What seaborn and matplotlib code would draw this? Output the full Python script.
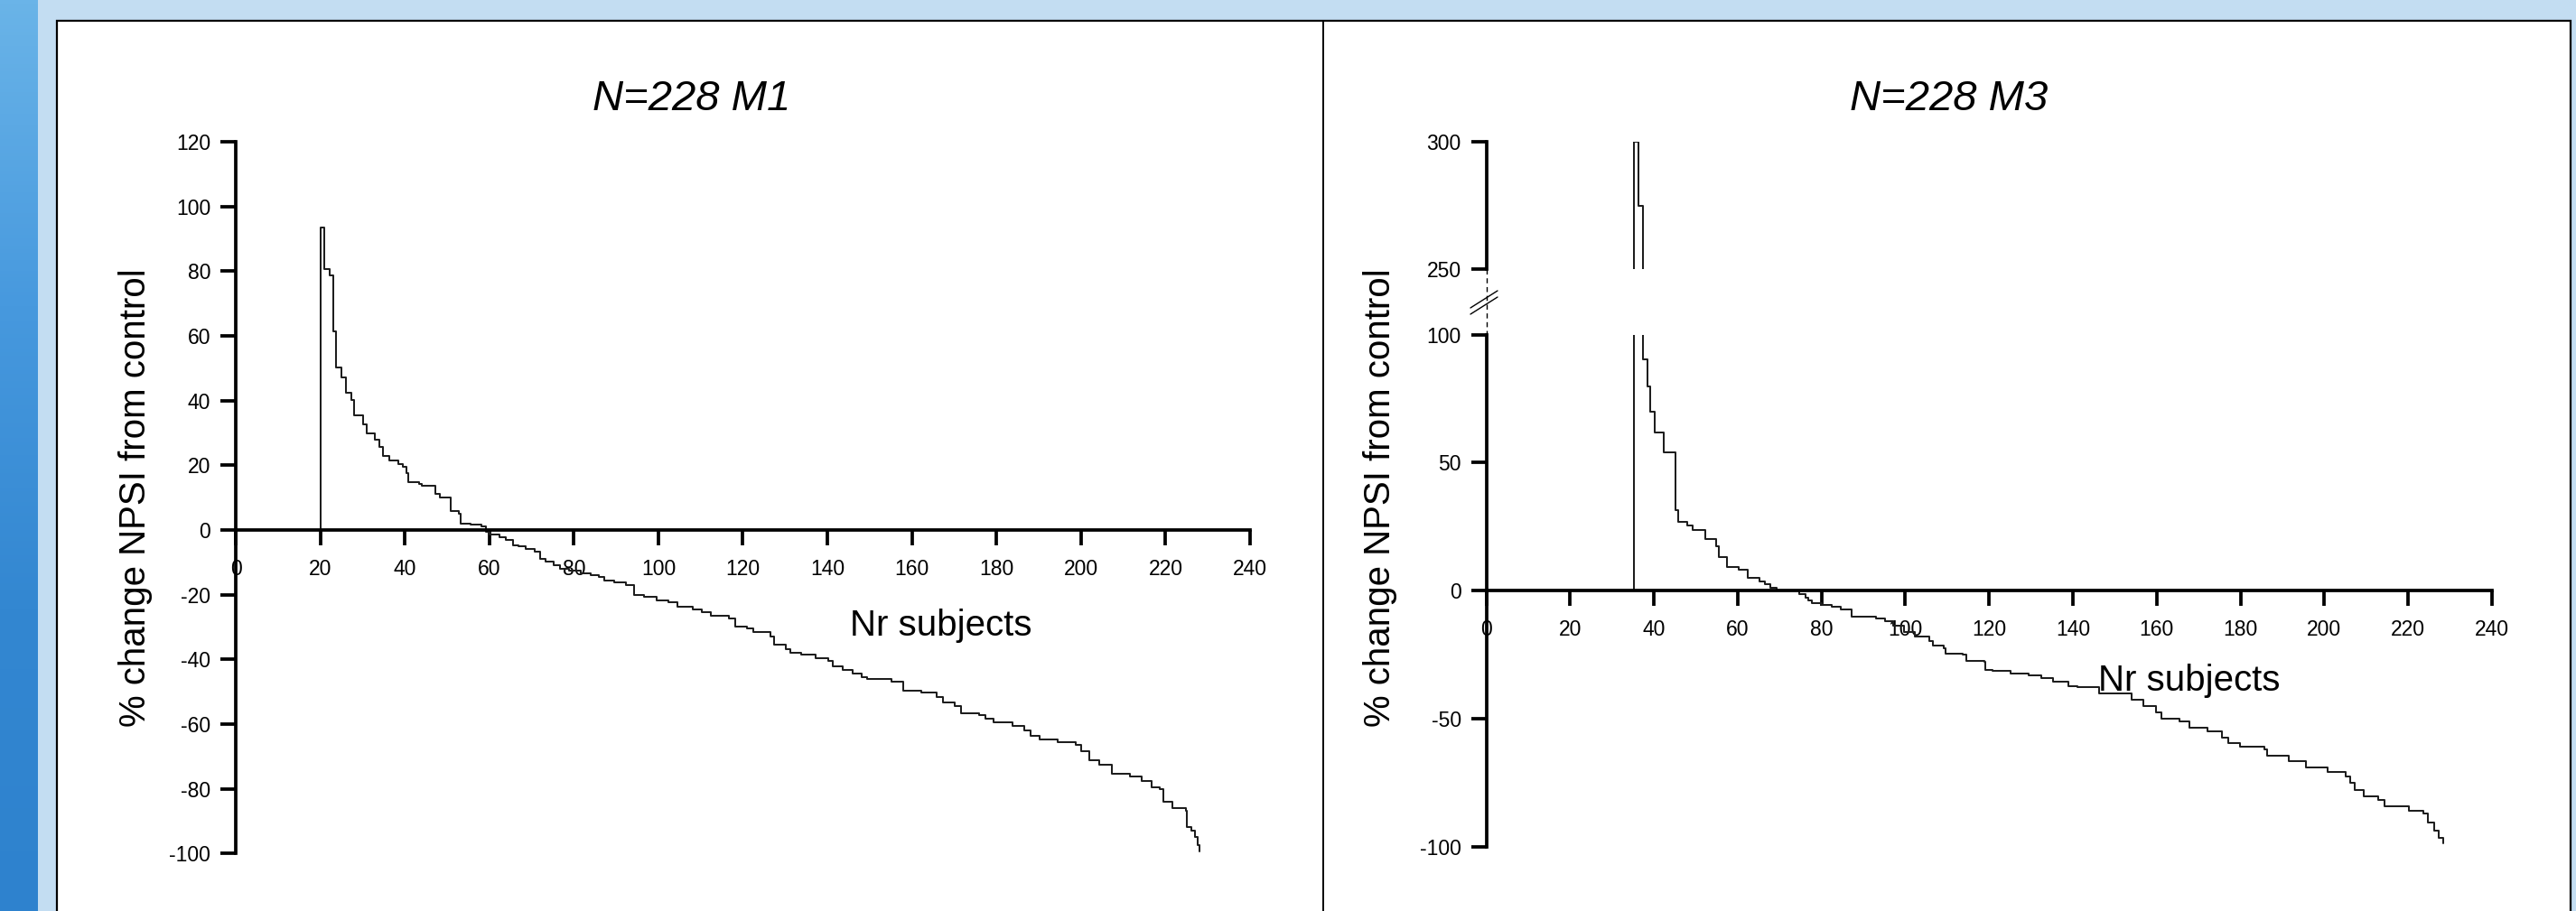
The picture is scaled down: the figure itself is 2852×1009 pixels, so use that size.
import numpy as np
import pandas as pd
import matplotlib
matplotlib.use("Agg")
import matplotlib.pyplot as plt
from matplotlib.patches import Rectangle
from matplotlib.lines import Line2D
from matplotlib.colors import LinearSegmentedColormap
import seaborn as sns

# ---------------- data ----------------
titles = ["N=228 M1", "N=228 M3"]
x_label = "Nr subjects"
y_label = "% change NPSI from control"
x_ticks = list(range(0, 241, 20))
m1_yticks = list(range(-100, 121, 20))
m3_low_yticks = [-100, -50, 0, 50, 100]
m3_high_yticks = [250, 300]

# step start positions (subject rank) and % change, panel M1
m1_x = [20.0, 20.0, 20.9, 22.2, 23.0, 23.8, 25.0, 26.0, 27.3, 28.1, 30.2, 31.0, 33.0, 33.9,
        34.9, 36.3, 38.4, 39.6, 40.4, 40.8, 43.3, 44.1, 47.2, 48.2, 50.9, 52.8, 53.2, 55.6,
        58.1, 59.3, 60.0, 62.5, 63.9, 65.7, 66.8, 68.6, 70.7, 72.1, 73.2, 75.3, 76.7, 78.9,
        81.7, 83.9, 86.0, 87.1, 89.6, 92.4, 94.2, 96.7, 99.6, 102.4, 104.5, 108.1, 110.2,
        112.4, 116.7, 118.1, 120.9, 122.4, 126.6, 127.4, 130.2, 131.3, 133.8, 137.3, 140.2,
        141.3, 143.7, 145.9, 148.0, 149.4, 155.1, 158.0, 162.2, 165.8, 167.3, 170.1, 171.6,
        175.9, 177.3, 179.4, 183.7, 186.5, 188.0, 190.1, 194.4, 198.7, 200.1, 201.9, 204.4,
        207.3, 211.6, 214.4, 216.6, 218.7, 219.4, 221.6, 224.8, 225.1, 226.2, 226.9, 227.6,
        228.0]
m1_y = [0, 93.4, 80.7, 78.8, 61.4, 50.3, 47.1, 42.4, 40.1, 35.4, 32.6, 30.0, 28.0, 25.6,
        22.8, 21.4, 20.5, 19.6, 17.7, 14.7, 14.2, 13.8, 11.2, 10.1, 5.8, 5.1, 2.1, 1.7,
        1.2, -0.6, -1.4, -2.3, -3.0, -4.6, -5.1, -5.8, -6.8, -8.8, -9.7, -10.9, -12.0, -12.5,
        -13.5, -13.9, -14.6, -15.5, -16.1, -17.0, -20.0, -20.7, -21.6, -22.3, -23.7, -24.6,
        -25.5, -26.5, -27.4, -29.7, -30.4, -31.6, -33.0, -35.3, -36.7, -38.0, -38.5, -39.5,
        -40.4, -42.2, -43.2, -44.3, -45.5, -46.0, -46.9, -49.7, -50.2, -51.6, -53.4, -54.4,
        -56.5, -57.1, -58.3, -59.3, -60.4, -62.0, -63.6, -64.8, -65.5, -66.4, -68.2, -71.0,
        -72.4, -75.2, -76.1, -77.5, -79.4, -80.0, -84.0, -85.8, -86.8, -91.9, -92.8, -94.8,
        -97.4, -99.2]

# panel M3
m3_x = [35.2, 35.2, 36.3, 37.5, 38.5, 39.1, 40.3, 42.3, 45.2, 45.9, 47.9, 49.2, 52.2, 54.9,
        55.4, 57.4, 60.3, 62.4, 65.2, 66.5, 67.7, 69.4, 74.7, 76.1, 76.8, 77.8, 80.0, 82.5,
        84.7, 87.2, 92.9, 95.1, 97.2, 99.7, 102.3, 105.8, 106.6, 109.1, 109.5, 113.7, 114.5,
        118.8, 119.1, 120.9, 125.2, 129.5, 132.4, 135.3, 138.9, 141.0, 146.2, 153.9, 156.8,
        159.8, 161.2, 165.5, 167.7, 172.0, 175.6, 177.0, 179.9, 185.6, 186.4, 191.4, 195.7,
        200.7, 205.0, 206.1, 207.2, 209.3, 212.9, 214.4, 220.1, 223.7, 224.8, 226.2, 227.3,
        228.4]
m3_y = [0, 300, 275, 90.4, 79.6, 69.9, 61.8, 54.0, 31.4, 27.0, 25.4, 23.8, 20.0, 17.3,
        13.2, 9.4, 8.1, 4.9, 3.5, 2.4, 1.1, 0.0, -1.5, -2.7, -3.9, -5.0, -5.6, -6.2,
        -7.4, -10.3, -10.9, -12.0, -13.8, -16.1, -17.9, -19.6, -21.4, -22.6, -24.6, -24.9, -27.3,
        -27.8, -30.8, -31.3, -32.5, -33.1, -34.3, -35.4, -37.2, -37.8, -40.1, -42.7, -45.0,
        -47.4, -49.9, -50.9, -53.4, -54.9, -57.3, -59.6, -60.8, -62.0, -64.3, -66.6, -69.0,
        -70.8, -72.5, -74.9, -77.8, -80.2, -81.9, -84.2, -86.0, -87.1, -90.6, -93.6, -96.5,
        -98.8]

df_m1 = pd.DataFrame({"subject": m1_x, "change": m1_y})
df_m3 = pd.DataFrame({"subject": m3_x, "change": m3_y})

# ---------------- style ----------------
sns.set_theme(style="white")
plt.rcParams["font.family"] = ["Liberation Sans", "DejaVu Sans"]

W, H = 2852, 1009
fig = plt.figure(figsize=(W / 100, H / 100), dpi=100)
fig.patch.set_facecolor("#c3ddf2")


def fx(px):
    return px / W


def fy(py):
    return 1 - py / H


def rect(x0, y0, x1, y1):
    # pixel box (top-left origin) -> figure fraction [l, b, w, h]
    return [fx(x0), fy(y1), fx(x1) - fx(x0), fy(y0) - fy(y1)]


# blue strip on the far left (gradient)
ax_bg = fig.add_axes(rect(0, 0, 42, H), zorder=-20)
cmap = LinearSegmentedColormap.from_list("strip", ["#6ab4e8", "#4799de", "#3387d1", "#2e82ce"])
ax_bg.imshow(np.linspace(0, 1, 256).reshape(-1, 1), cmap=cmap, aspect="auto")
ax_bg.set_axis_off()

# white panel with black border
panel = Rectangle((fx(63), fy(H + 20)), fx(2846) - fx(63), fy(23) - fy(H + 20),
                  transform=fig.transFigure, facecolor="white", edgecolor="black",
                  linewidth=1.6, zorder=-10)
fig.add_artist(panel)
fig.add_artist(Line2D([fx(1465), fx(1465)], [fy(23), fy(H + 5)], transform=fig.transFigure,
                      color="black", linewidth=1.4, zorder=-5))

LINE_C = "#1e1e1e"
LW = 1.45
SPINE_W = 2.7
TICK_FS = 16.5


def style_axes(ax, ylim, yticks, with_x=True):
    ax.set_facecolor("none")
    ax.set_xlim(0, 240)
    ax.set_ylim(*ylim)
    for s in ["top", "right"]:
        ax.spines[s].set_visible(False)
    ax.spines["left"].set_linewidth(SPINE_W)
    ax.spines["left"].set_color("black")
    if with_x:
        ax.spines["bottom"].set_position(("data", 0))
        ax.spines["bottom"].set_linewidth(SPINE_W)
        ax.spines["bottom"].set_color("black")
        ax.set_xticks(x_ticks)
        ax.set_xticklabels([str(t) for t in x_ticks])
        ax.tick_params(axis="x", which="major", direction="out", length=12, width=SPINE_W,
                       pad=11, labelsize=TICK_FS, colors="black", bottom=True)
    else:
        ax.spines["bottom"].set_visible(False)
        ax.set_xticks([])
    ax.set_yticks(yticks)
    ax.set_yticklabels([str(t) for t in yticks])
    ax.tick_params(axis="y", which="major", direction="out", length=12, width=SPINE_W,
                   pad=8, labelsize=TICK_FS, colors="black", left=True)
    ax.set_xlabel("")
    ax.set_ylabel("")
    ax.grid(False)


# ---------------- left panel (M1) ----------------
ax1 = fig.add_axes(rect(261, 157, 1384, 945.5))
sns.lineplot(data=df_m1, x="subject", y="change", ax=ax1, estimator=None, sort=False,
             drawstyle="steps-post", color=LINE_C, linewidth=LW)
style_axes(ax1, (-100, 120), m1_yticks)

# ---------------- right panel (M3), broken y axis ----------------
X0R, X1R = 1645.5, 2759
ax_lo = fig.add_axes(rect(X0R, 370.6, X1R, 937.8))
ax_hi = fig.add_axes(rect(X0R, 157.4, X1R, 297.9))
for a in (ax_lo, ax_hi):
    sns.lineplot(data=df_m3, x="subject", y="change", ax=a, estimator=None, sort=False,
                 drawstyle="steps-post", color=LINE_C, linewidth=LW)
style_axes(ax_lo, (-100, 100), m3_low_yticks)
style_axes(ax_hi, (250, 300), m3_high_yticks, with_x=False)

# axis break: dashed connector and double slash
fig.add_artist(Line2D([fx(X0R), fx(X0R)], [fy(297.9), fy(370.6)], transform=fig.transFigure,
                      color="black", linewidth=1.0, linestyle=(0, (4, 3))))
for off in (0, 7):
    fig.add_artist(Line2D([fx(1628), fx(1658)], [fy(348 - off), fy(329 - off)],
                          transform=fig.transFigure, color="black", linewidth=1.0))

# ---------------- texts ----------------
TITLE_FS = 34
LABEL_FS = 29
fig.text(fx(766), fy(122), titles[0], ha="center", va="baseline", fontsize=TITLE_FS,
         style="italic", color="black")
fig.text(fx(2158), fy(122), titles[1], ha="center", va="baseline", fontsize=TITLE_FS,
         style="italic", color="black")

fig.text(fx(150), fy(551), y_label, rotation=90, ha="center", va="center",
         fontsize=LABEL_FS, color="black")
fig.text(fx(1528), fy(551), y_label, rotation=90, ha="center", va="center",
         fontsize=LABEL_FS, color="black")

fig.text(fx(1042), fy(693), x_label, ha="center", va="center", fontsize=LABEL_FS, color="black")
fig.text(fx(2424), fy(754), x_label, ha="center", va="center", fontsize=LABEL_FS, color="black")

fig.savefig("out.png", dpi=100, facecolor=fig.get_facecolor())
